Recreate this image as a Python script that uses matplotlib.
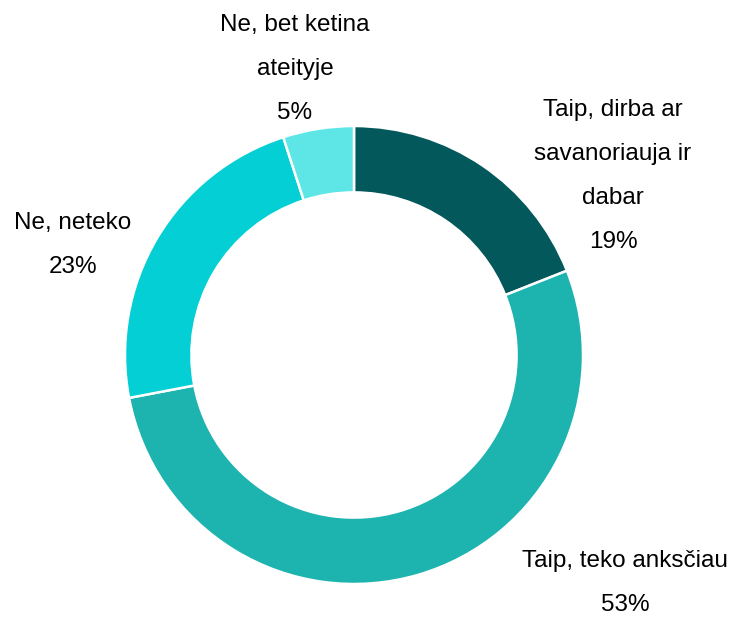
import matplotlib
matplotlib.use("Agg")
import matplotlib.pyplot as plt

categories = ["Taip, dirba ar\nsavanoriauja ir\ndabar", "Taip, teko anksčiau", "Ne, neteko", "Ne, bet ketina\nateityje"]
values = [19, 53, 23, 5]
colors = ["#03585C", "#1DB3AF", "#03CFD4", "#5EE6E6"]

# label block centers in pixel coords (x, y from top)
label_pos = [(613, 176), (625, 583), (73, 245), (295, 69)]

W, H = 734, 617
fig = plt.figure(figsize=(W / 100, H / 100), dpi=100)
ax = fig.add_axes([0, 0, 1, 1])

cx, cy, R = 354, H - 355, 229
ax.pie(values, colors=colors, startangle=90, counterclock=False,
       center=(cx, cy), radius=R, frame=True,
       wedgeprops=dict(width=R * 0.29, edgecolor="white", linewidth=1.8))
ax.set_xlim(0, W)
ax.set_ylim(0, H)
ax.set_aspect("equal")
ax.axis("off")

total = sum(values)
for cat, v, (lx, ly) in zip(categories, values, label_pos):
    txt = f"{cat}\n{round(100 * v / total)}%"
    ax.text(lx, H - ly, txt, ha="center", va="center", fontsize=17.5,
            family=["Liberation Sans", "DejaVu Sans"], linespacing=2.3, color="black")

fig.savefig("out.png", dpi=100)
